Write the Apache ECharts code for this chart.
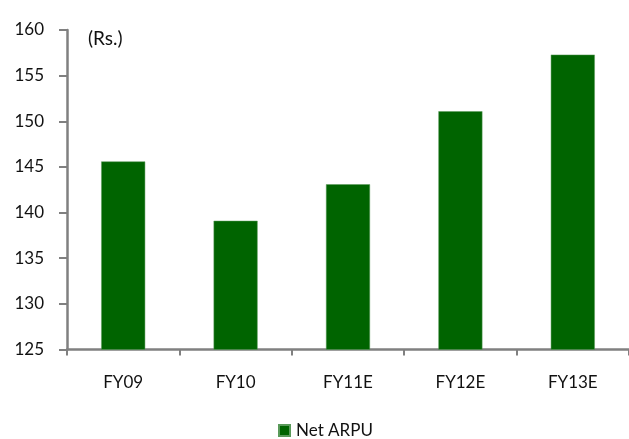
<!DOCTYPE html>
<html><head><meta charset="utf-8">
<script src="https://cdn.jsdelivr.net/npm/echarts@6/dist/echarts.min.js"></script>
<style>html,body{margin:0;padding:0;background:#fff}#c{width:629px;height:439px}</style>
</head><body><div id="c"></div>
<script>
var categories = ["FY09", "FY10", "FY11E", "FY12E", "FY13E"];
var netArpu = [145.6, 139.1, 143.1, 151.1, 157.3];
var yTicks = [125, 130, 135, 140, 145, 150, 155, 160];
var seriesName = "Net ARPU";
var unitLabel = "(Rs.)";

var FONT = "Lato, 'Open Sans', sans-serif";
var chart = echarts.init(document.getElementById('c'), null, {renderer: 'canvas'});
chart.setOption({
  animation: false,
  textStyle: {fontFamily: FONT},
  grid: {left: 67, right: -5, top: 30, bottom: 89.5, containLabel: false},
  legend: {
    data: [seriesName], top: 417, left: 273,
    itemWidth: 11, itemHeight: 11, itemGap: 6,
    icon: 'rect',
    textStyle: {fontFamily: FONT, fontSize: 17, color: '#111', padding: [0,0,0,1]}
  },
  graphic: [{type: 'text', left: 88, top: 29, style: {text: unitLabel, font: '19px ' + FONT, fill: '#111'}}],
  xAxis: {
    type: 'category', data: categories,
    axisLine: {lineStyle: {color: '#808080', width: 2.5}},
    axisTick: {show: true, length: 6, lineStyle: {color: '#808080', width: 2}},
    axisLabel: {color: '#111', fontSize: 17, margin: 25, fontFamily: FONT}
  },
  yAxis: {
    type: 'value', min: yTicks[0], max: yTicks[yTicks.length-1], interval: 5,
    splitLine: {show: false},
    axisLine: {show: true, lineStyle: {color: '#808080', width: 2.5}},
    axisTick: {show: true, length: 8, lineStyle: {color: '#808080', width: 2}},
    axisLabel: {color: '#111', fontSize: 17, margin: 23, fontFamily: FONT}
  },
  series: [{
    name: seriesName, type: 'bar', data: netArpu, barWidth: 44,
    itemStyle: {color: '#006400', borderColor: '#5a9a5a', borderWidth: 0.5}
  }]
});
</script></body></html>
